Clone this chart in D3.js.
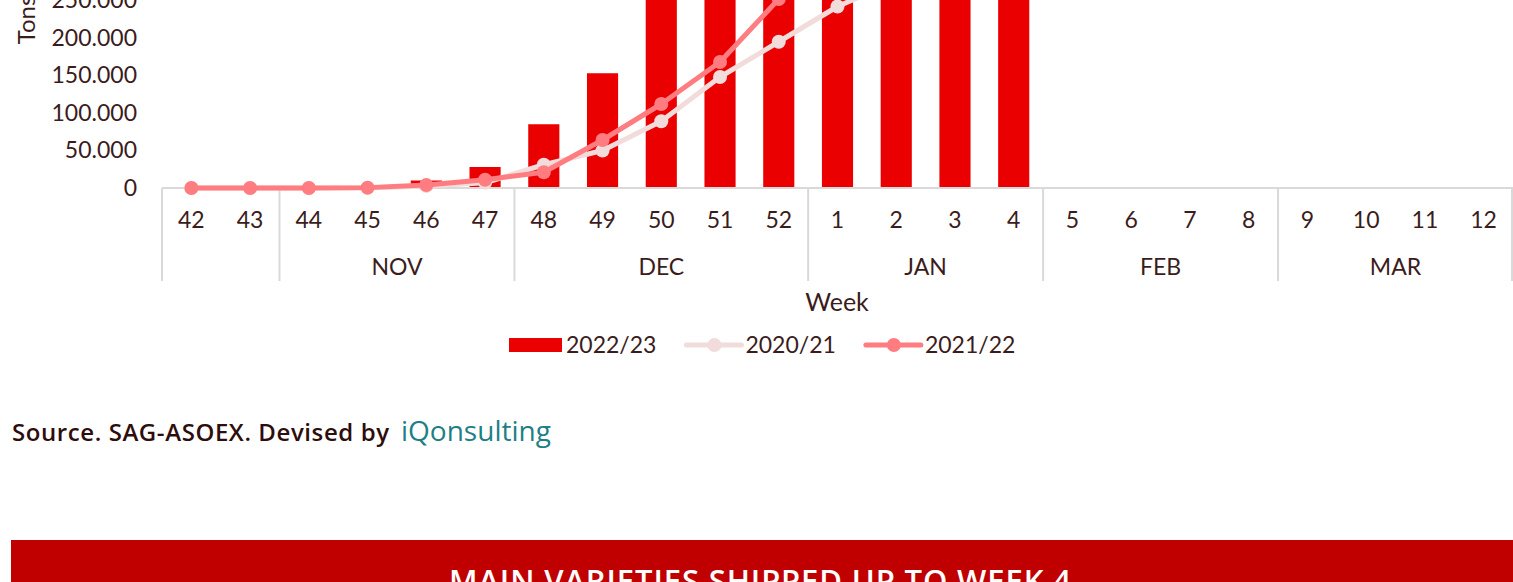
<!DOCTYPE html>
<html>
<head>
<meta charset="utf-8">
<script src="https://cdn.jsdelivr.net/npm/d3@7"></script>
<style>
  body { margin: 0; background: #fff; }
  svg { display: block; font-family: Lato, "Open Sans", sans-serif; }
</style>
</head>
<body>
<svg width="1513" height="582"></svg>
<script>
var svg = d3.select("svg");

// weeks on the x axis and the month each group of weeks falls in
var weeks = ["42", "43", "44", "45", "46", "47", "48", "49", "50", "51", "52",
             "1", "2", "3", "4", "5", "6", "7", "8", "9", "10", "11", "12"];
var months = ["", "NOV", "DEC", "JAN", "FEB", "MAR"];
var monthWeeks = [2, 4, 5, 4, 4, 4];

// tons per week (values above ~250.000 are cut off in the picture, estimated)
var s2223 = [0, 0, 0, 0, 10000, 28000, 85000, 153000, 265000, 330000, 372000,
             398000, 412000, 420000, 425000, null, null, null, null, null, null, null, null];
var s2021 = [0, 0, 0, 0, 2500, 7000, 31000, 50000, 89000, 148000, 195000,
             242000, 276000, 300000, 318000, 332000, 342000, 350000, 355000, 358000, 360000, 361000, 362000];
var s2122 = [0, 0, 0, 500, 4000, 11000, 21000, 64000, 112000, 168000, 252000,
             300000, 330000, 350000, 362000, 370000, 376000, 380000, 383000, 385000, 386000, 387000, 388000];

var yTicks = [0, 50000, 100000, 150000, 200000, 250000];

var textColor = "#3b1c1c";
var axisColor = "#d9d9d9";
var barColor = "#ea0000";
var c2021 = "#f2dcdb";
var c2122 = "#ff7c80";

var left = 162, right = 1513, y0 = 188;

var x = d3.scaleBand().domain(d3.range(weeks.length)).range([left, right]).paddingInner(0.47).paddingOuter(0.235);
var xc = d3.scalePoint().domain(d3.range(weeks.length)).range([left, right]).padding(0.5);
var y = d3.scaleLinear().domain([0, 400000]).range([y0, y0 - 8 * 37.5]);

var fmt = d3.formatLocale({decimal: ",", thousands: ".", grouping: [3], currency: ["", ""]}).format(",d");

// y axis labels
var yAxis = svg.append("g")
    .attr("transform", "translate(" + (left - 25) + ",0)")
    .call(d3.axisLeft(y).tickValues(yTicks).tickSize(0).tickPadding(0).tickFormat(fmt));
yAxis.select(".domain").remove();
yAxis.selectAll("text")
    .attr("fill", textColor)
    .style("font-size", "23px")
    .style("font-family", "Lato, sans-serif");

svg.append("text")
    .attr("transform", "translate(35,20) rotate(-90)")
    .attr("text-anchor", "middle")
    .attr("fill", textColor)
    .style("font-size", "24px")
    .text("Tons");

// bars 2022/23
svg.append("g").selectAll("rect")
    .data(s2223.map(function (v, i) { return {i: i, v: v}; }).filter(function (d) { return d.v; }))
    .enter().append("rect")
    .attr("x", function (d) { return x(d.i); })
    .attr("width", x.bandwidth())
    .attr("y", function (d) { return y(d.v); })
    .attr("height", function (d) { return y0 - y(d.v); })
    .attr("fill", barColor);

// x axis line
svg.append("line")
    .attr("x1", left).attr("x2", right)
    .attr("y1", y0).attr("y2", y0)
    .attr("stroke", axisColor).attr("stroke-width", 2);

// week labels
svg.append("g").selectAll("text")
    .data(weeks)
    .enter().append("text")
    .attr("x", function (d, i) { return xc(i); })
    .attr("y", 228)
    .attr("text-anchor", "middle")
    .attr("fill", textColor)
    .style("font-size", "23px")
    .text(function (d) { return d; });

// month dividers and labels
var step = x.step();
var start = 0;
var groups = months.map(function (m, k) {
    var g = {label: m, from: start, to: start + monthWeeks[k]};
    start += monthWeeks[k];
    return g;
});
var dividers = [0].concat(groups.map(function (g) { return g.to; }));
svg.append("g").selectAll("line")
    .data(dividers)
    .enter().append("line")
    .attr("x1", function (d) { return Math.min(left + d * step, right - 1); })
    .attr("x2", function (d) { return Math.min(left + d * step, right - 1); })
    .attr("y1", y0).attr("y2", 281)
    .attr("stroke", axisColor).attr("stroke-width", 2);
svg.append("g").selectAll("text")
    .data(groups)
    .enter().append("text")
    .attr("x", function (g) { return left + (g.from + g.to) / 2 * step; })
    .attr("y", 275)
    .attr("text-anchor", "middle")
    .attr("fill", textColor)
    .style("font-size", "23px")
    .text(function (g) { return g.label; });

svg.append("text")
    .attr("x", 837).attr("y", 311)
    .attr("text-anchor", "middle")
    .attr("fill", textColor)
    .style("font-size", "25px")
    .text("Week");

// lines
var line = d3.line()
    .x(function (d, i) { return xc(i); })
    .y(function (d) { return y(d); });

function drawSeries(values, color) {
    var g = svg.append("g");
    g.append("path")
        .attr("d", line(values))
        .attr("fill", "none")
        .attr("stroke", color)
        .attr("stroke-width", 5)
        .attr("stroke-linejoin", "round");
    g.selectAll("circle")
        .data(values)
        .enter().append("circle")
        .attr("cx", function (d, i) { return xc(i); })
        .attr("cy", function (d) { return y(d); })
        .attr("r", 7)
        .attr("fill", color);
}
drawSeries(s2021, c2021);
drawSeries(s2122, c2122);

// legend
var legend = svg.append("g");
var lx = 509, ly = 345;
legend.append("rect")
    .attr("x", lx).attr("y", ly - 7).attr("width", 53).attr("height", 14)
    .attr("fill", barColor);
var t1 = legend.append("text").attr("x", lx + 57).attr("y", ly + 8)
    .attr("fill", textColor).style("font-size", "23px").text("2022/23");
lx = lx + 57 + t1.node().getComputedTextLength() + 30;
[[c2021, "2020/21"], [c2122, "2021/22"]].forEach(function (item) {
    legend.append("line")
        .attr("x1", lx).attr("x2", lx + 55).attr("y1", ly).attr("y2", ly)
        .attr("stroke", item[0]).attr("stroke-width", 5).attr("stroke-linecap", "round");
    legend.append("circle")
        .attr("cx", lx + 28).attr("cy", ly).attr("r", 7).attr("fill", item[0]);
    var t = legend.append("text").attr("x", lx + 59).attr("y", ly + 8)
        .attr("fill", textColor).style("font-size", "23px").text(item[1]);
    lx = lx + 59 + t.node().getComputedTextLength() + 30;
});

// source line
svg.append("text")
    .attr("x", 12).attr("y", 441)
    .attr("fill", "#2e0d0d")
    .attr("textLength", 377)
    .attr("lengthAdjust", "spacing")
    .style("font-size", "24px")
    .style("font-weight", "600")
    .style("font-family", "'Open Sans', sans-serif")
    .text("Source. SAG-ASOEX. Devised by");
svg.append("text")
    .attr("x", 401).attr("y", 441)
    .attr("fill", "#1f7f87")
    .style("font-size", "28px")
    .style("font-family", "'Open Sans', sans-serif")
    .text("iQonsulting");

// banner
svg.append("rect")
    .attr("x", 11).attr("y", 540).attr("width", 1502).attr("height", 42)
    .attr("fill", "#c00000");
svg.append("text")
    .attr("x", 760).attr("y", 592)
    .attr("text-anchor", "middle")
    .attr("fill", "#fff")
    .attr("textLength", 622)
    .attr("lengthAdjust", "spacing")
    .style("font-size", "31px")
    .style("font-weight", "600")
    .style("font-family", "'Open Sans', sans-serif")
    .text("MAIN VARIETIES SHIPPED UP TO WEEK 4");
</script>
</body>
</html>
